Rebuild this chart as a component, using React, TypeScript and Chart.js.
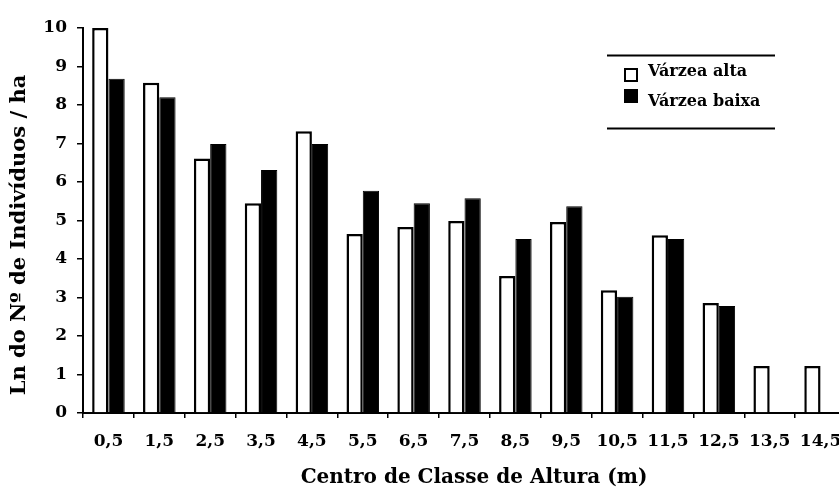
import React, { useEffect, useRef } from "react";
import { Chart, registerables } from "chart.js";

Chart.register(...registerables);

const categories = ["0,5", "1,5", "2,5", "3,5", "4,5", "5,5", "6,5", "7,5", "8,5", "9,5", "10,5", "11,5", "12,5", "13,5", "14,5"];
const varzeaAlta = [10.0, 8.58, 6.61, 5.45, 7.32, 4.65, 4.83, 4.99, 3.56, 4.96, 3.19, 4.62, 2.86, 1.22, 1.22];
const varzeaBaixa = [8.68, 8.2, 6.99, 6.31, 6.99, 5.77, 5.45, 5.58, 4.52, 5.37, 3.02, 4.52, 2.78, null, null];
const seriesLabels = ["Várzea alta", "Várzea baixa"];
const yTitle = "Ln do Nº de Indivíduos / ha";
const xTitle = "Centro de Classe de Altura (m)";

const FONT = "'DejaVu Serif', 'Liberation Serif', serif";

const legendPlugin = {
  id: "boxLegend",
  afterDraw(chart: any) {
    const ctx = chart.ctx;
    ctx.save();
    ctx.strokeStyle = "#000";
    ctx.lineWidth = 2;
    ctx.beginPath();
    ctx.moveTo(607, 55.5);
    ctx.lineTo(775, 55.5);
    ctx.moveTo(607, 128.5);
    ctx.lineTo(775, 128.5);
    ctx.stroke();
    const rows = [69, 89];
    chart.data.datasets.forEach((ds: any, i: number) => {
      const y = rows[i];
      if (i === 0) {
        ctx.fillStyle = "#fff";
        ctx.fillRect(625, y, 12, 12);
        ctx.lineWidth = 2;
        ctx.strokeRect(625, y, 12, 12);
      } else {
        ctx.fillStyle = "#000";
        ctx.fillRect(624, y, 14, 14);
      }
      ctx.fillStyle = "#000";
      ctx.font = `bold 16px ${FONT}`;
      ctx.textBaseline = "alphabetic";
      ctx.textAlign = "left";
      ctx.fillText(ds.label, 648, i === 0 ? 76 : 106);
    });
    // x axis title
    ctx.font = `bold 20px ${FONT}`;
    ctx.textAlign = "center";
    ctx.textBaseline = "middle";
    ctx.fillText(xTitle, 474, 478);
    // y axis title
    ctx.translate(20, 235);
    ctx.rotate(-Math.PI / 2);
    ctx.font = `bold 21px ${FONT}`;
    ctx.fillText(yTitle, 0, 0);
    ctx.restore();
  },
};

export default function App() {
  const ref = useRef<HTMLCanvasElement | null>(null);
  useEffect(() => {
    if (!ref.current) return;
    const chart = new Chart(ref.current, {
      type: "bar",
      data: {
        labels: categories,
        datasets: [
          {
            label: seriesLabels[0],
            data: varzeaAlta,
            backgroundColor: "#ffffff",
            borderColor: "#000000",
            borderWidth: 2.5,
          },
          {
            label: seriesLabels[1],
            data: varzeaBaixa,
            backgroundColor: "#000000",
            borderColor: "#000000",
            borderWidth: 1,
          },
        ],
      },
      options: {
        responsive: false,
        animation: false,
        layout: { padding: { top: 28, right: 22, left: 0, bottom: 0 } },
        datasets: { bar: { categoryPercentage: 0.64, barPercentage: 1.0 } },
        plugins: {
          legend: { display: false },
          tooltip: { enabled: false },
        },
        scales: {
          x: {
            grid: {
              display: true,
              drawOnChartArea: false,
              drawTicks: true,
              tickLength: 5,
              color: "#000",
              lineWidth: 1.5,
              offset: true,
            },
            border: { display: true, color: "#000", width: 2 },
            ticks: {
              color: "#000",
              font: { family: FONT, size: 17, weight: "bold" },
              padding: 13,
              maxRotation: 0,
              autoSkip: false,
            },
            afterFit(scale: any) {
              scale.height = 77;
            },
          },
          y: {
            min: 0,
            max: 10,
            grid: {
              display: true,
              drawOnChartArea: false,
              drawTicks: true,
              tickLength: 6,
              color: "#000",
              lineWidth: 1.5,
            },
            border: { display: true, color: "#000", width: 2 },
            ticks: {
              stepSize: 1,
              color: "#000",
              font: { family: FONT, size: 17, weight: "bold" },
              padding: 10,
            },
            afterFit(scale: any) {
              scale.width = 83;
            },
          },
        },
      },
      plugins: [legendPlugin],
    });
    return () => chart.destroy();
  }, []);
  return (
    <div style={{ position: "fixed", left: 0, top: 0, width: 839, height: 490, overflow: "hidden", background: "#fff" }}>
      <canvas ref={ref} width={868} height={490} style={{ display: "block", width: 868, height: 490 }} />
    </div>
  );
}
